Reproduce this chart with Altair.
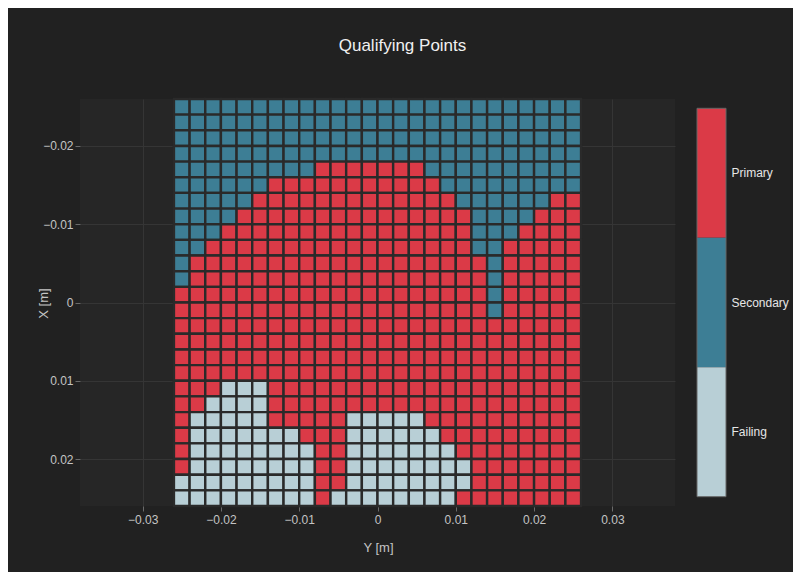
import altair as alt
import pandas as pd

# Grid of qualifying status: one string per row (X position, top to bottom),
# one character per column (Y position, left to right).
# R = Primary, B = Secondary, F = Failing
grid_rows = [
    "BBBBBBBBBBBBBBBBBBBBBBBBBB",
    "BBBBBBBBBBBBBBBBBBBBBBBBBB",
    "BBBBBBBBBBBBBBBBBBBBBBBBBB",
    "BBBBBBBBBBBBBBBBBBBBBBBBBB",
    "BBBBBBBBBRRRRRRRBBBBBBBBBB",
    "BBBBBBRRRRRRRRRRRBBBBBBBBB",
    "BBBBBRRRRRRRRRRRRRBBBBBBRR",
    "BBBBRRRRRRRRRRRRRRRBBBBRRR",
    "BBBRRRRRRRRRRRRRRRRBBBRRRR",
    "BBRRRRRRRRRRRRRRRRRBBRRRRR",
    "BRRRRRRRRRRRRRRRRRRRBRRRRR",
    "BRRRRRRRRRRRRRRRRRRRBRRRRR",
    "RRRRRRRRRRRRRRRRRRRRBRRRRR",
    "RRRRRRRRRRRRRRRRRRRRBRRRRR",
    "RRRRRRRRRRRRRRRRRRRRRRRRRR",
    "RRRRRRRRRRRRRRRRRRRRRRRRRR",
    "RRRRRRRRRRRRRRRRRRRRRRRRRR",
    "RRRRRRRRRRRRRRRRRRRRRRRRRR",
    "RRRFFFRRRRRRRRRRRRRRRRRRRR",
    "RRFFFFRRRRRRRRRRRRRRRRRRRR",
    "RFFFFFRRRRRFFFFFRRRRRRRRRR",
    "RFFFFFFFRRRFFFFFFRRRRRRRRR",
    "RFFFFFFFFRRFFFFFFFRRRRRRRR",
    "RFFFFFFFFRRFFFFFFFFRRRRRRR",
    "FFFFFFFFFRRFFFFFFFFRRRRRRR",
    "FFFFFFFFFRFFFFFFFFRRRRRRRR",
]

# Cell centres (m), same for both axes
cell_centers = [
    -0.025, -0.023, -0.021, -0.019, -0.017, -0.015, -0.013, -0.011, -0.009,
    -0.007, -0.005, -0.003, -0.001, 0.001, 0.003, 0.005, 0.007, 0.009,
    0.011, 0.013, 0.015, 0.017, 0.019, 0.021, 0.023, 0.025,
]
cell_half = 0.001

status_names = {"R": "Primary", "B": "Secondary", "F": "Failing"}
categories = ["Primary", "Secondary", "Failing"]
category_colors = ["#DB3A47", "#3D7E95", "#B8CFD6"]

x_ticks = [-0.03, -0.02, -0.01, 0, 0.01, 0.02, 0.03]
y_ticks = [-0.02, -0.01, 0, 0.01, 0.02]

records = []
for r, row in enumerate(grid_rows):
    for c, ch in enumerate(row):
        xc = cell_centers[r]
        yc = cell_centers[c]
        records.append({
            "y0": yc - cell_half, "y1": yc + cell_half,
            "x0": xc - cell_half, "x1": xc + cell_half,
            "status": status_names[ch],
        })
df = pd.DataFrame(records)

FONT = "Liberation Sans"
color_scale = alt.Scale(domain=categories, range=category_colors)

heat = alt.Chart(df).mark_rect(stroke="#2a2a2a", strokeWidth=2.4).encode(
    x=alt.X("y0:Q",
            scale=alt.Scale(domain=[-0.038, 0.038], nice=False, zero=False),
            axis=alt.Axis(values=x_ticks, format="~g", title="Y [m]",
                          tickSize=5, labelPadding=3,
                          titleX=298, titleY=41, titleBaseline="middle")),
    x2="y1:Q",
    y=alt.Y("x0:Q",
            scale=alt.Scale(domain=[-0.026, 0.026], reverse=True, nice=False, zero=False),
            axis=alt.Axis(values=y_ticks, format="~g", title="X [m]",
                          tickSize=5, labelPadding=2,
                          titleX=-37, titleY=204, titleBaseline="middle")),
    y2="x1:Q",
    color=alt.Color("status:N", scale=color_scale, legend=None),
)

cbar = alt.Chart(pd.DataFrame({"status": categories})).mark_rect().encode(
    x=alt.value(617),
    x2=alt.value(646),
    y=alt.Y("status:N",
            scale=alt.Scale(domain=categories, paddingInner=0, paddingOuter=0.072),
            axis=alt.Axis(orient="right", offset=51, ticks=False, tickSize=0,
                          domain=False, grid=False, title=None,
                          labelColor="#e6e6e6", labelPadding=5, labelFontSize=12)),
    color=alt.Color("status:N", scale=color_scale, legend=None),
)

frame = alt.Chart(pd.DataFrame({"status": ["frame"]})).mark_rect(
    fill=None, stroke="#666666", strokeWidth=1
).encode(
    x=alt.value(617), x2=alt.value(646), y=alt.value(9.3), y2=alt.value(397.7)
)

chart = alt.layer(heat, cbar, frame).resolve_scale(y="independent").properties(
    width=595,
    height=407,
    padding={"left": 72, "top": 91, "right": 118, "bottom": 66},
    autosize=alt.AutoSizeParams(type="none"),
    title=alt.TitleParams("Qualifying Points", fontSize=17, color="#f0f0f0",
                          font=FONT, fontWeight="normal", anchor="middle",
                          frame="group", dx=25, offset=30, baseline="alphabetic"),
).configure(
    background="#212121",
).configure_view(
    fill="#262626", stroke=None,
).configure_axis(
    gridColor="#353535", tickColor="#6a6a6a", domain=False,
    labelColor="#c4c4c4", titleColor="#c4c4c4",
    labelFont=FONT, titleFont=FONT, labelFontSize=12, titleFontSize=13,
    titleFontWeight="normal",
)

chart.save("out.html", embed_options={"renderer": "svg", "actions": False})
